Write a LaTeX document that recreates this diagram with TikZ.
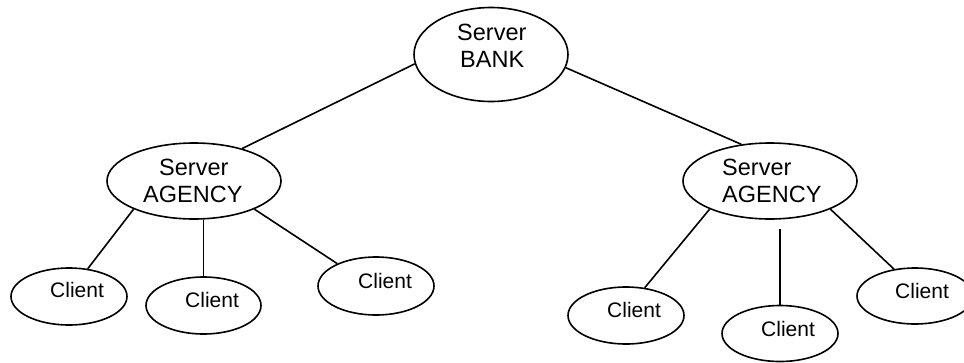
\documentclass[tikz,border=0pt]{standalone}
\usepackage{fontspec}
\setmainfont{Liberation Sans}
\usetikzlibrary{shapes.geometric}
\tikzset{
  srv/.style={draw, ellipse, inner sep=0pt, line width=1.6pt, minimum width=174pt, minimum height=76pt},
  cli/.style={draw, ellipse, inner sep=0pt, line width=1.6pt, minimum width=116pt, minimum height=57pt},
  stxt/.style={anchor=base west, inner sep=0pt, font=\fontsize{23.5}{27}\selectfont},
  ctxt/.style={anchor=base west, inner sep=0pt, font=\fontsize{21}{25}\selectfont},
  link/.style={line width=1.6pt}
}
\begin{document}
\begin{tikzpicture}[x=1pt, y=-1pt]
\useasboundingbox (0,0) rectangle (964,362);
\clip (0,0) rectangle (964,362);
% servers
\node[srv, minimum width=154pt, minimum height=94pt] (bank) at (491,54.5) {};
\node[srv] (agl) at (194,181) {};
\node[srv] (agr) at (770,181) {};
% clients
\node[cli] (c1) at (69,296.5) {};
\node[cli, minimum width=115pt] (c2) at (203.5,305.5) {};
\node[cli, minimum height=58pt] (c3) at (376,286) {};
\node[cli] (c4) at (626,315.5) {};
\node[cli, minimum height=56pt] (c5) at (780,333.5) {};
\node[cli, minimum height=56pt] (c6) at (915,296) {};
% texts
\node[stxt] (bankt1) at (457,40) {Server};
\node[stxt] (bankt2) at (460,67) {BANK};
\node[stxt] (aglt1) at (159,175) {Server};
\node[stxt] (aglt2) at (143,202) {AGENCY};
\node[stxt] (agrt1) at (722,175) {Server};
\node[stxt] (agrt2) at (722,202) {AGENCY};
\node[ctxt] (c1t) at (50,297) {Client};
\node[ctxt] (c2t) at (185,307) {Client};
\node[ctxt] (c3t) at (358,288) {Client};
\node[ctxt] (c4t) at (607,317) {Client};
\node[ctxt] (c5t) at (761,336) {Client};
\node[ctxt] (c6t) at (895,298) {Client};
% connectors
\draw[link] (bank.187.5) -- (agl.34);
\draw[link] (bank.350) -- (agr.128);
\draw[link] (agl.205) -- (c1.56);
\draw[link] (c2.north) -- (c2.north |- agl.south);
\draw[link] (agl.335) -- (c3.150);
\draw[link] (agr.205) -- (c4.56);
\coordinate (g5) at ([yshift=-9pt]c5.north |- agr.south);
\draw[link] (c5.north) -- (g5);
\draw[link] (agr.335) -- (c6.128);
\end{tikzpicture}
\end{document}
